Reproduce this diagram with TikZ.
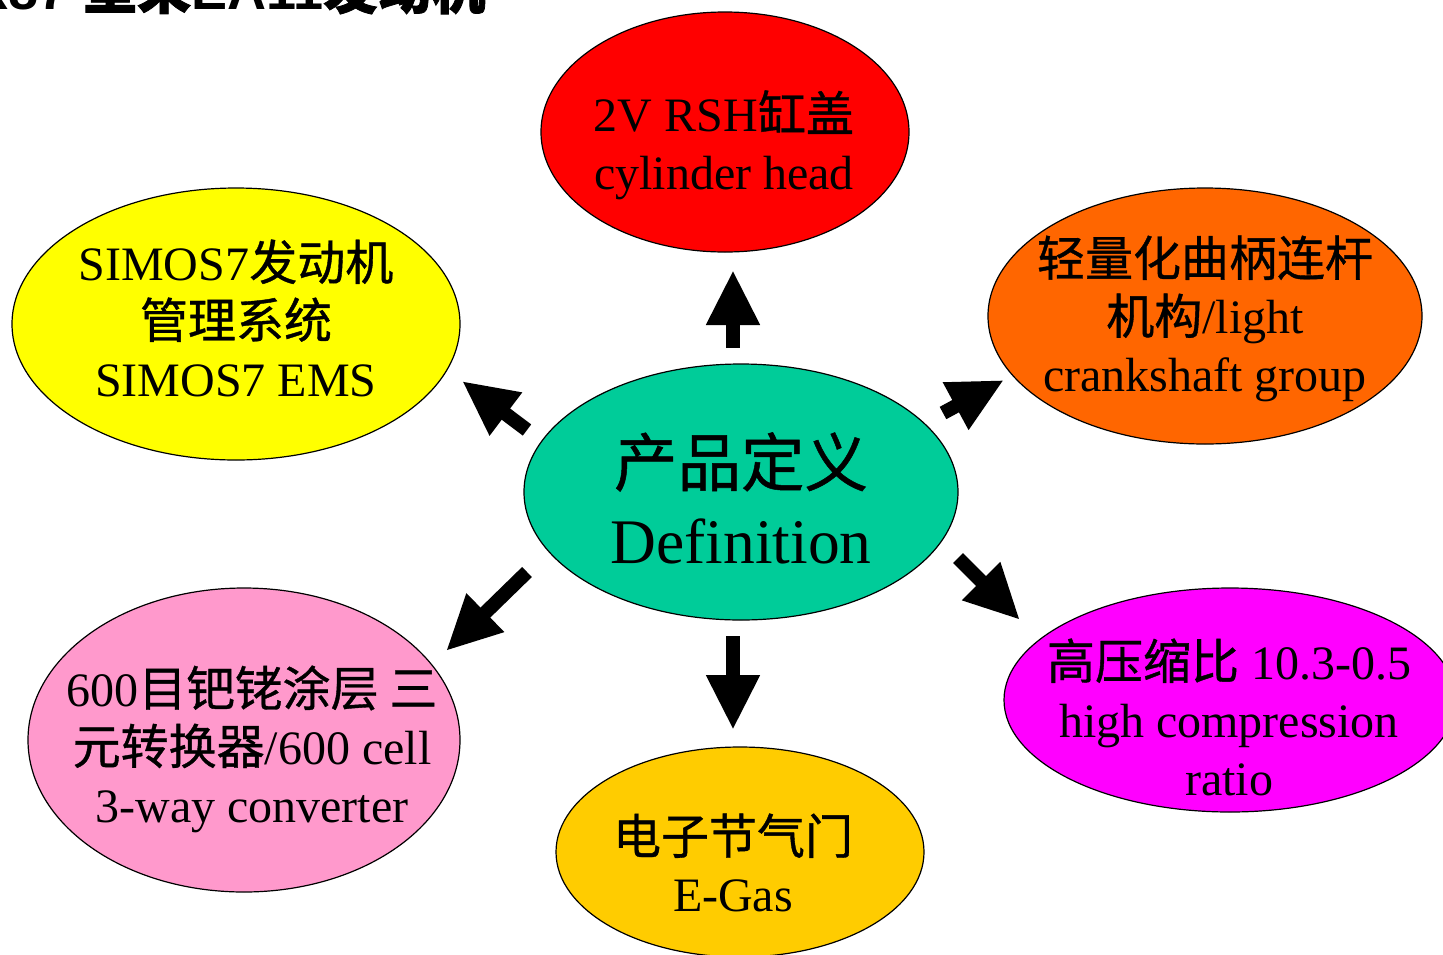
\documentclass[tikz,border=0pt]{standalone}
\usepackage{fontspec}
\setmainfont{Liberation Serif}
\newfontfamily\cjk[FakeBold=0.8]{Noto Sans CJK SC}
\newfontfamily\cjkt[FakeBold=1.5]{Noto Sans CJK SC}
\newfontfamily\titlefont{Liberation Sans}
\usetikzlibrary{shapes.geometric,arrows.meta}
\definecolor{cRed}{HTML}{FF0000}
\definecolor{cYellow}{HTML}{FFFF00}
\definecolor{cOrange}{HTML}{FF6600}
\definecolor{cTeal}{HTML}{00CC99}
\definecolor{cPink}{HTML}{FF99CC}
\definecolor{cGold}{HTML}{FFCC00}
\definecolor{cMagenta}{HTML}{FF00FF}
\begin{document}
\begin{tikzpicture}[x=1pt,y=-1pt,
  blob/.style={ellipse, draw=black, line width=1.2pt, inner sep=0pt},
  lbl/.style={align=center, inner sep=0pt, font=\fontsize{48}{58}\selectfont},
  biglbl/.style={align=center, inner sep=0pt, font=\fontsize{63.5}{77}\selectfont},
  bigarrow/.style={line width=14pt, -{Triangle[length=55pt,width=50pt]}}]
\useasboundingbox (0,0) rectangle (1443,954);
\clip (0,0) rectangle (1443,954);

% title (cut off at top)
\node[anchor=base west, inner sep=0pt, font=\fontsize{54}{60}\selectfont\bfseries] (title) at (-28,9)
  {\titlefont X87 {\cjkt 型采}EA11{\cjkt 发动机}};

% ellipses
\node[blob, fill=cRed, minimum width=368pt, minimum height=240pt] (head) at (725,132) {};
\node[blob, fill=cYellow, minimum width=448pt, minimum height=272pt] (ems) at (236,324) {};
\node[blob, fill=cOrange, minimum width=434pt, minimum height=256pt] (crank) at (1205,316) {};
\node[blob, fill=cTeal, minimum width=434pt, minimum height=256pt] (def) at (741,492) {};
\node[blob, fill=cPink, minimum width=432pt, minimum height=304pt] (conv) at (244,740) {};
\node[blob, fill=cGold, minimum width=368pt, minimum height=210pt] (egas) at (740,852) {};
\node[blob, fill=cMagenta, minimum width=452pt, minimum height=224pt] (ratio) at (1230,700) {};

% texts
\node[lbl] (headtxt) at (724,145) {2V RSH{\cjk 缸盖}\\cylinder head};
\node[lbl] (emstxt) at (236,318) {SIMOS7{\cjk 发动机}\\{\cjk 管理系统}\\SIMOS7 EMS};
\node[lbl] (cranktxt) at (1205,319) {{\cjk 轻量化曲柄连杆}\\{\cjk 机构}/light\\crankshaft group};
\node[biglbl] (deftxt) at (741,498) {{\cjk 产品定义}\\Definition};
\node[lbl] (convtxt) at (252,749) {600{\cjk 目钯铑涂层 三}\\{\cjk 元转换器}/600 cell\\3-way converter};
\node[lbl] (egastxt) at (733,863) {{\cjk 电子节气门}\\E-Gas};
\node[lbl] (ratiotxt) at (1229,717) {{\cjk 高压缩比} 10.3-0.5\\high compression\\ratio};

% arrows
\coordinate (u0) at (733,348);  \coordinate (u1) at (733,270);
\coordinate (d0) at (733,636);  \coordinate (d1) at (733,730);
\coordinate (ul0) at (527,430); \coordinate (ul1) at (462,381);
\coordinate (ur0) at (943,413); \coordinate (ur1) at (1004,380);
\coordinate (ll0) at (527,572); \coordinate (ll1) at (446,651);
\coordinate (lr0) at (958,558); \coordinate (lr1) at (1020,620);
\draw[bigarrow] (u0) -- (u1);
\draw[bigarrow] (d0) -- (d1);
\draw[bigarrow] (ul0) -- (ul1);
\draw[bigarrow] (ur0) -- (ur1);
\draw[bigarrow] (ll0) -- (ll1);
\draw[bigarrow] (lr0) -- (lr1);
\end{tikzpicture}
\end{document}
